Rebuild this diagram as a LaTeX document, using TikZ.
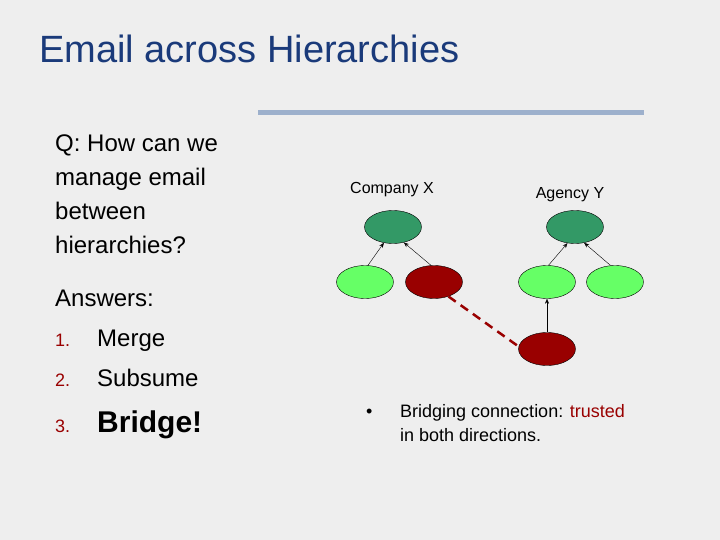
\documentclass[tikz,border=0pt]{standalone}
\usepackage{fontspec}
\setmainfont{Liberation Sans}
\usetikzlibrary{shapes.geometric,arrows.meta}
\definecolor{bg}{HTML}{EEEEEE}
\definecolor{ttl}{HTML}{1A3A7A}
\definecolor{rule}{HTML}{9DB0CC}
\definecolor{dkg}{HTML}{339966}
\definecolor{ltg}{HTML}{66FF66}
\definecolor{dred}{HTML}{990000}
\begin{document}
\begin{tikzpicture}[x=1pt,y=-1pt,
  nd/.style={ellipse,draw=black,minimum width=57pt,minimum height=33pt,inner sep=0pt},
  top/.style={nd,fill=dkg},
  leaf/.style={nd,fill=ltg},
  rd/.style={nd,fill=dred},
  arr/.style={-{Stealth[length=5pt,width=4pt]},thin},
  lbl/.style={anchor=base west,inner sep=0pt,font=\fontsize{24}{28}\selectfont}]
\path[fill=bg] (0,0) rectangle (720,540);
\useasboundingbox (0,0) rectangle (720,540);
\node[anchor=base west,inner sep=0pt,text=ttl,font=\fontsize{38}{40}\selectfont] (t) at (39,63) {Email across Hierarchies};
\draw[rule,line width=5pt] (258,113) -- (644,113);
\node[lbl] (q1) at (55,152) {Q: How can we};
\node[lbl] (q2) at (55,186) {manage email};
\node[lbl] (q3) at (55,220) {between};
\node[lbl] (q4) at (55,254) {hierarchies?};
\node[lbl] (a0) at (55,306) {Answers:};
\node[anchor=base west,inner sep=0pt,font=\fontsize{18}{20}\selectfont,text=dred] (n1) at (55,346) {1.};
\node[lbl] (a1) at (97,346) {Merge};
\node[anchor=base west,inner sep=0pt,font=\fontsize{18}{20}\selectfont,text=dred] (n2) at (55,386) {2.};
\node[lbl] (a2) at (97,386) {Subsume};
\node[anchor=base west,inner sep=0pt,font=\fontsize{18}{20}\selectfont,text=dred] (n3) at (55,432) {3.};
\node[lbl,font=\fontsize{30}{32}\selectfont\bfseries] (a3) at (97,432) {Bridge!};
\node[anchor=base,inner sep=0pt,font=\fontsize{16}{18}\selectfont] (cx) at (392,194) {Company X};
\node[anchor=base,inner sep=0pt,font=\fontsize{16}{18}\selectfont] (ay) at (570,199) {Agency Y};
\node[top] (X) at (393,227) {};
\node[leaf] (X1) at (365,282) {};
\node[rd] (X2) at (434,282) {};
\node[top] (Y) at (575,227) {};
\node[leaf] (Y1) at (547,282) {};
\node[leaf] (Y2) at (615,282) {};
\node[rd] (Y3) at (547,349) {};
\draw[arr] (X1.80) -- (X.240);
\draw[arr] (X2.100) -- (X.305);
\draw[arr] (Y1.85) -- (Y.245);
\draw[arr] (Y2.105) -- (Y.300);
\draw[arr] (Y3.north) -- (Y1.south);
\draw[dred,line width=2.5pt,dash pattern=on 9pt off 6pt] (X2.-45) -- (Y3.175);
\node[anchor=base west,inner sep=0pt,font=\fontsize{18}{20}\selectfont] (b) at (366,417) {•};
\node[anchor=base west,inner sep=0pt,font=\fontsize{18}{20}\selectfont] (bt) at (400,417) {Bridging connection: \textcolor{dred}{trusted}};
\node[anchor=base west,inner sep=0pt,font=\fontsize{18}{20}\selectfont] (bt2) at (400,441) {in both directions.};
\end{tikzpicture}
\end{document}
